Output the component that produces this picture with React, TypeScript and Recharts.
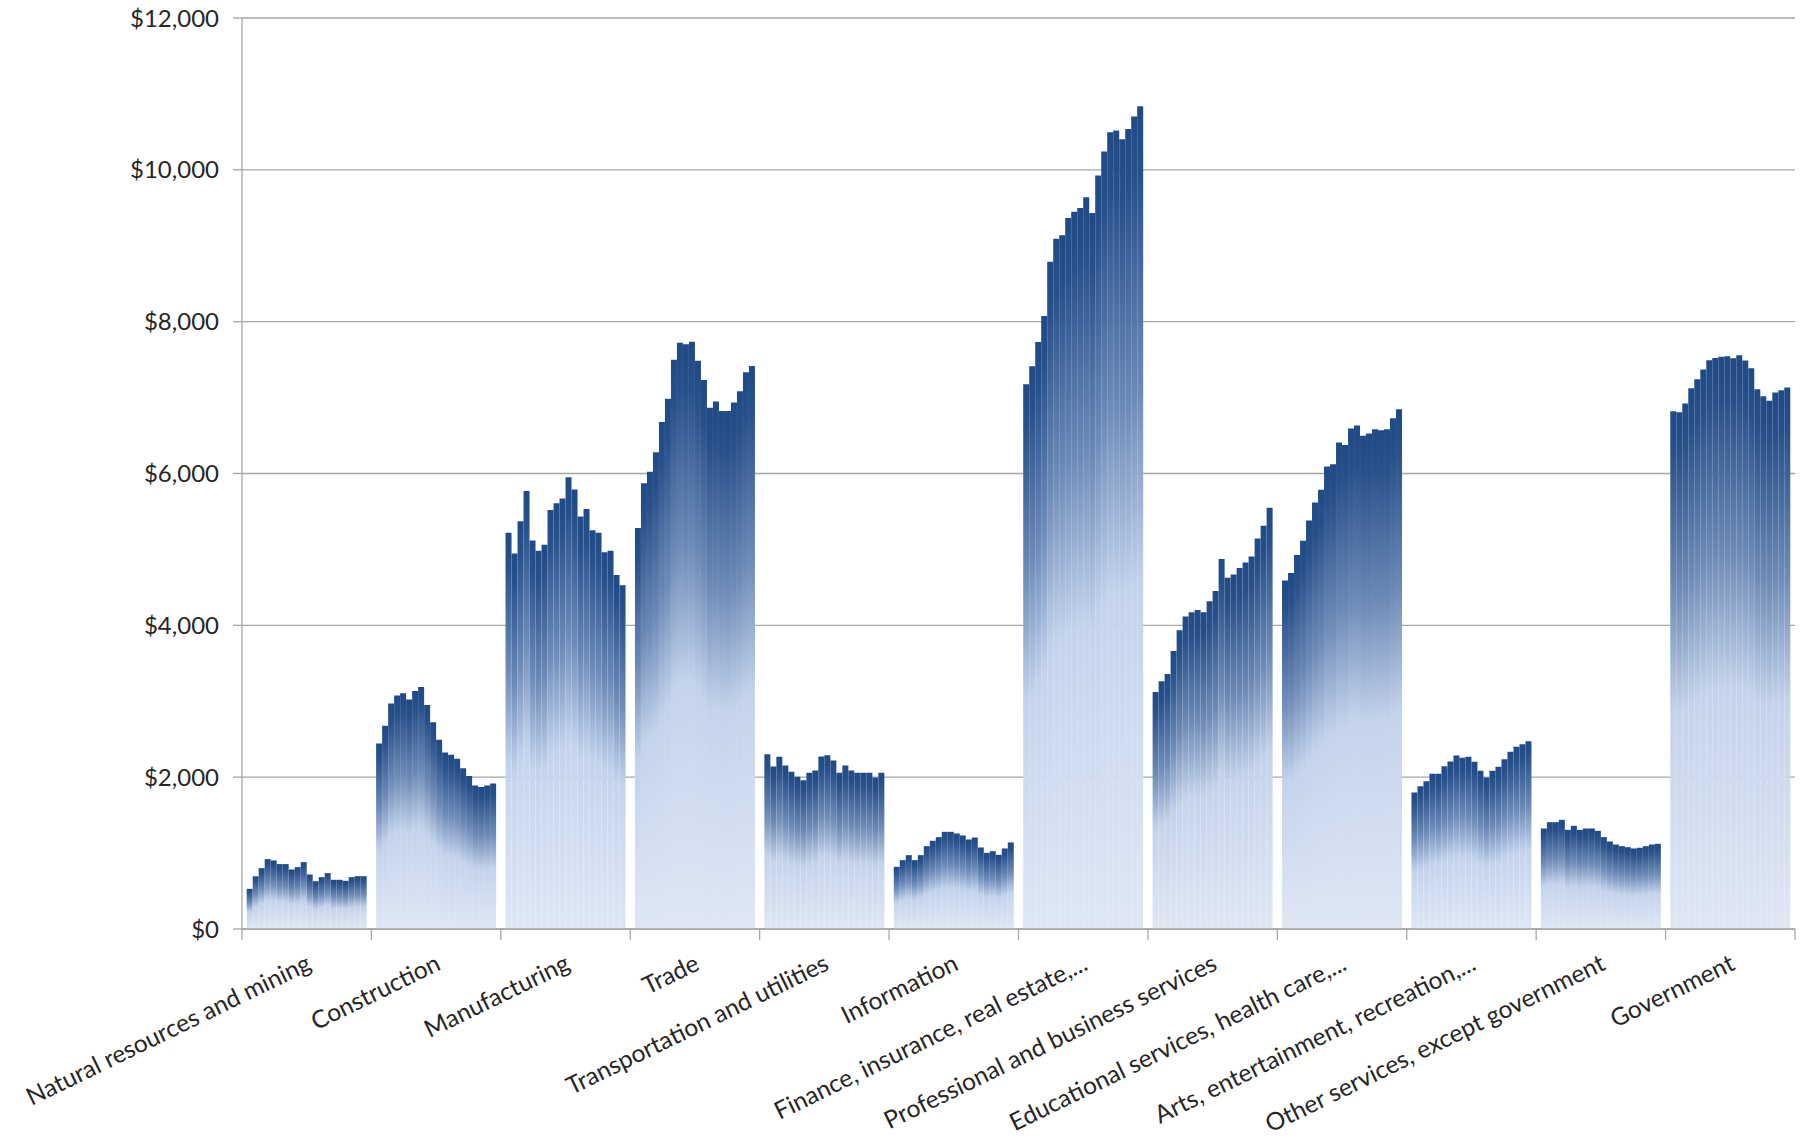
import React from 'react'
import { BarChart, Bar, XAxis, YAxis, CartesianGrid } from 'recharts'

// one array per industry, 20 yearly values each (left to right)
const categories = [
  'Natural resources and mining',
  'Construction',
  'Manufacturing',
  'Trade',
  'Transportation and utilities',
  'Information',
  'Finance, insurance, real estate,...',
  'Professional and business services',
  'Educational services, health care,...',
  'Arts, entertainment, recreation,...',
  'Other services, except government',
  'Government',
]

const naturalResources = [529, 696, 802, 921, 903, 855, 855, 784, 815, 881, 718, 630, 683, 736, 648, 648, 634, 683, 696, 696]
const construction = [2445, 2678, 2969, 3075, 3106, 3022, 3136, 3189, 2951, 2722, 2493, 2326, 2295, 2242, 2119, 2017, 1890, 1872, 1890, 1916]
const manufacturing = [5218, 4947, 5371, 5768, 5117, 4982, 5060, 5519, 5607, 5672, 5952, 5790, 5432, 5532, 5253, 5218, 4964, 4982, 4663, 4527]
const trade = [5283, 5873, 6022, 6280, 6677, 6983, 7499, 7722, 7704, 7735, 7486, 7232, 6865, 6948, 6822, 6822, 6935, 7084, 7333, 7416]
const transportation = [2303, 2140, 2268, 2154, 2070, 2004, 1960, 2057, 2088, 2272, 2290, 2220, 2057, 2154, 2088, 2057, 2057, 2057, 1996, 2057]
const information = [819, 907, 973, 907, 973, 1091, 1162, 1210, 1280, 1280, 1258, 1232, 1179, 1205, 1074, 1003, 1025, 977, 1061, 1140]
const finance = [7174, 7413, 7731, 8075, 8790, 9091, 9139, 9364, 9448, 9497, 9638, 9430, 9925, 10243, 10494, 10517, 10402, 10539, 10702, 10839]
const professional = [3123, 3263, 3360, 3662, 3934, 4118, 4171, 4202, 4171, 4316, 4452, 4873, 4627, 4671, 4754, 4829, 4908, 5145, 5311, 5548]
const educational = [4592, 4689, 4925, 5114, 5382, 5618, 5785, 6092, 6123, 6408, 6377, 6592, 6632, 6496, 6526, 6583, 6570, 6583, 6728, 6846]
const arts = [1798, 1881, 1947, 2044, 2044, 2145, 2206, 2285, 2255, 2268, 2202, 2083, 1996, 2083, 2136, 2237, 2334, 2400, 2435, 2474]
const otherServices = [1324, 1407, 1407, 1438, 1306, 1359, 1306, 1324, 1324, 1293, 1210, 1153, 1113, 1091, 1078, 1061, 1070, 1091, 1113, 1122]
const government = [6821, 6808, 6922, 7124, 7242, 7370, 7493, 7523, 7537, 7545, 7519, 7558, 7488, 7387, 7111, 7018, 6957, 7067, 7098, 7133]

const yTicks = [0, 2000, 4000, 6000, 8000, 10000, 12000]

const series = [
  naturalResources, construction, manufacturing, trade, transportation, information,
  finance, professional, educational, arts, otherServices, government,
]

const YEARS = naturalResources.length
const seriesKeys = Array.from({ length: YEARS }, (_, i) => `s${i}`)

const data = categories.map((name, c) => {
  const row: Record<string, string | number> = { name }
  series[c].forEach((v, i) => { row[seriesKeys[i]] = v })
  return row
})

const W = 1800
const H = 1147
const LEFT = 242
const RIGHT = 5
const BAND = (W - LEFT - RIGHT) / categories.length
const AXIS = '#a6a6a6'
const FONT = 'Lato, "Open Sans", sans-serif'

function CategoryTick(props: any) {
  const { x, y, payload, index } = props
  const tx = x + 6
  const ty = y + 40
  return (
    <g>
      <line x1={x - BAND / 2} x2={x - BAND / 2} y1={y} y2={y + 11} stroke={AXIS} strokeWidth={1.3} />
      {index === categories.length - 1 && (
        <line x1={x + BAND / 2} x2={x + BAND / 2} y1={y} y2={y + 11} stroke={AXIS} strokeWidth={1.3} />
      )}
      <text
        x={tx}
        y={ty}
        textAnchor="end"
        transform={`rotate(-26, ${tx}, ${ty})`}
        fill="#262626"
        fontSize={24.5}
        fontFamily={FONT}
      >
        {payload.value}
      </text>
    </g>
  )
}

export default function App() {
  return (
    <div style={{ position: 'absolute', left: 0, top: 0, background: '#fff' }}>
      <BarChart
        width={W}
        height={H}
        data={data}
        margin={{ top: 18, right: RIGHT, left: 0, bottom: 0 }}
        barCategoryGap={4.7}
        barGap={0}
      >
        <defs>
          <linearGradient id="barGrad" x1="0" y1="0" x2="0" y2="1">
            <stop offset="0%" stopColor="#1f4a85" />
            <stop offset="8%" stopColor="#28518b" />
            <stop offset="35%" stopColor="#6f8cb8" />
            <stop offset="58%" stopColor="#c4d3ec" />
            <stop offset="100%" stopColor="#dfe7f4" />
          </linearGradient>
        </defs>
        <CartesianGrid vertical={false} stroke={AXIS} strokeWidth={1.3} />
        <XAxis
          dataKey="name"
          interval={0}
          tickLine={false}
          tickSize={0}
          tickMargin={0}
          height={H - 18 - 911}
          axisLine={{ stroke: AXIS, strokeWidth: 1.3 }}
          tick={<CategoryTick />}
        />
        <YAxis
          width={LEFT}
          domain={[0, 12000]}
          ticks={yTicks}
          interval={0}
          tickSize={9}
          tickMargin={14}
          axisLine={{ stroke: AXIS, strokeWidth: 1.3 }}
          tickLine={{ stroke: AXIS, strokeWidth: 1.3 }}
          tick={{ fill: '#262626', fontSize: 24, fontFamily: FONT }}
          tickFormatter={(v: number) => `$${v.toLocaleString('en-US')}`}
        />
        {seriesKeys.map((k) => (
          <Bar key={k} dataKey={k} fill="url(#barGrad)" isAnimationActive={false} />
        ))}
      </BarChart>
    </div>
  )
}
